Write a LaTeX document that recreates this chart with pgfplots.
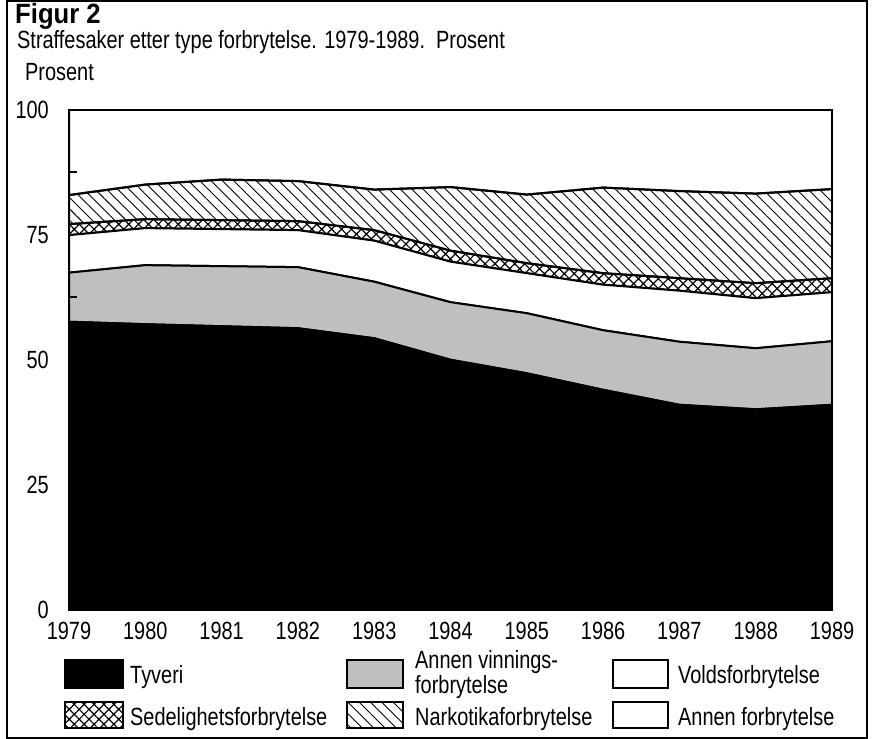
\documentclass[border=0pt]{standalone}
\usepackage{pgfplots}
\pgfplotsset{compat=1.18}
\usetikzlibrary{patterns.meta}
\usepackage{fontspec}
\setmainfont{Liberation Sans}[FakeStretch=0.8]
\newfontfamily\titlefont{Liberation Sans}[FakeStretch=0.92]
\newcommand{\lbl}{\fontsize{25}{27}\selectfont}
\begin{document}
\begin{tikzpicture}
\path[use as bounding box] (0bp,0bp) rectangle (876bp,-739bp);
\draw[line width=1.5bp] (7bp,-1bp) rectangle (867bp,-738bp);
\node[anchor=base west, inner sep=0pt, font=\titlefont\bfseries\fontsize{28}{30}\selectfont] at (15bp,-23bp) {Figur 2};
\node[anchor=base west, inner sep=0pt, font=\lbl] at (17bp,-48bp) {Straffesaker etter type forbrytelse. 1979-1989.\ \ Prosent};
\node[anchor=base west, inner sep=0pt, font=\lbl] at (25bp,-80bp) {Prosent};
\begin{axis}[
  at={(69bp,-610bp)}, anchor=south west,
  scale only axis, width=763bp, height=500.5bp,
  xmin=1979, xmax=1989, ymin=0, ymax=100,
  stack plots=y,
  axis on top,
  axis line style={line width=2bp},
  xtick={1979,1980,1981,1982,1983,1984,1985,1986,1987,1988,1989},
  xticklabels={1979,1980,1981,1982,1983,1984,1985,1986,1987,1988,1989},
  xtick style={draw=none},
  ytick={0,12.5,25,37.5,50,62.5,75,87.5,100},
  yticklabels={0,,25,,50,,75,,100},
  ytick pos=left,
  tick align=inside,
  major tick length=8bp,
  ytick style={line width=1.5bp, black},
  ticklabel style={font=\lbl, inner sep=0pt},
  xticklabel style={anchor=north, yshift=-12bp},
  yticklabel style={anchor=east, xshift=-20bp},
]
% Tyveri
\addplot[fill=black, draw=black, line width=2bp] coordinates {
(1979,57.6) (1980,57.1) (1981,56.7) (1982,56.3) (1983,54.3) (1984,50.0)
(1985,47.3) (1986,44.0) (1987,41.0) (1988,40.1) (1989,41.0)} \closedcycle;
% Annen vinningsforbrytelse
\addplot[fill=black!25, draw=black, line width=2bp] coordinates {
(1979,9.8) (1980,11.8) (1981,12.0) (1982,12.2) (1983,11.3) (1984,11.5)
(1985,12.0) (1986,11.9) (1987,12.6) (1988,12.2) (1989,12.7)} \closedcycle;
% Voldsforbrytelse
\addplot[fill=white, draw=black, line width=2bp] coordinates {
(1979,7.5) (1980,7.4) (1981,7.4) (1982,7.4) (1983,8.2) (1984,8.1)
(1985,8.0) (1986,9.1) (1987,10.2) (1988,10.0) (1989,9.8)} \closedcycle;
% Sedelighetsforbrytelse
\addplot[pattern={Hatch[angle=45,distance=7bp,line width=1.2bp]}, draw=black, line width=2bp] coordinates {
(1979,2.2) (1980,1.8) (1981,1.8) (1982,1.8) (1983,2.1) (1984,2.2)
(1985,2.0) (1986,2.3) (1987,2.5) (1988,3.0) (1989,2.8)} \closedcycle;
% Narkotikaforbrytelse
\addplot[pattern={Lines[angle=-45,distance=8bp,line width=0.9bp]}, draw=black, line width=2bp] coordinates {
(1979,5.8) (1980,6.9) (1981,8.1) (1982,8.0) (1983,8.1) (1984,12.7)
(1985,13.7) (1986,17.1) (1987,17.4) (1988,17.9) (1989,17.8)} \closedcycle;
% Annen forbrytelse
\addplot[fill=white, draw=black, line width=2bp] coordinates {
(1979,17.1) (1980,15.0) (1981,14.0) (1982,14.3) (1983,16.0) (1984,15.5)
(1985,17.0) (1986,15.6) (1987,16.3) (1988,16.8) (1989,15.9)} \closedcycle;
\end{axis}
% Legend
\draw[line width=1.8bp, fill=black] (65bp,-660bp) rectangle (123bp,-688bp);
\node[anchor=base west, inner sep=0pt, font=\lbl] at (130bp,-683bp) {Tyveri};
\draw[line width=1.8bp, fill=black!25] (347bp,-660bp) rectangle (403bp,-688bp);
\node[anchor=base west, inner sep=0pt, align=left, font=\fontsize{25}{17}\selectfont] at (415bp,-693bp) {Annen vinnings-\\forbrytelse};
\draw[line width=1.8bp, fill=white] (613bp,-660bp) rectangle (668bp,-688bp);
\node[anchor=base west, inner sep=0pt, font=\lbl] at (678bp,-683bp) {Voldsforbrytelse};
\draw[line width=1.8bp, pattern={Hatch[angle=45,distance=7bp,line width=1.2bp]}] (65bp,-702bp) rectangle (123bp,-728bp);
\node[anchor=base west, inner sep=0pt, font=\lbl] at (130bp,-725bp) {Sedelighetsforbrytelse};
\draw[line width=1.8bp, pattern={Lines[angle=-45,distance=8bp,line width=0.9bp]}] (347bp,-702bp) rectangle (403bp,-728bp);
\node[anchor=base west, inner sep=0pt, font=\lbl] at (415bp,-725bp) {Narkotikaforbrytelse};
\draw[line width=1.8bp, fill=white] (613bp,-702bp) rectangle (668bp,-728bp);
\node[anchor=base west, inner sep=0pt, font=\lbl] at (678bp,-725bp) {Annen forbrytelse};
\end{tikzpicture}
\end{document}
